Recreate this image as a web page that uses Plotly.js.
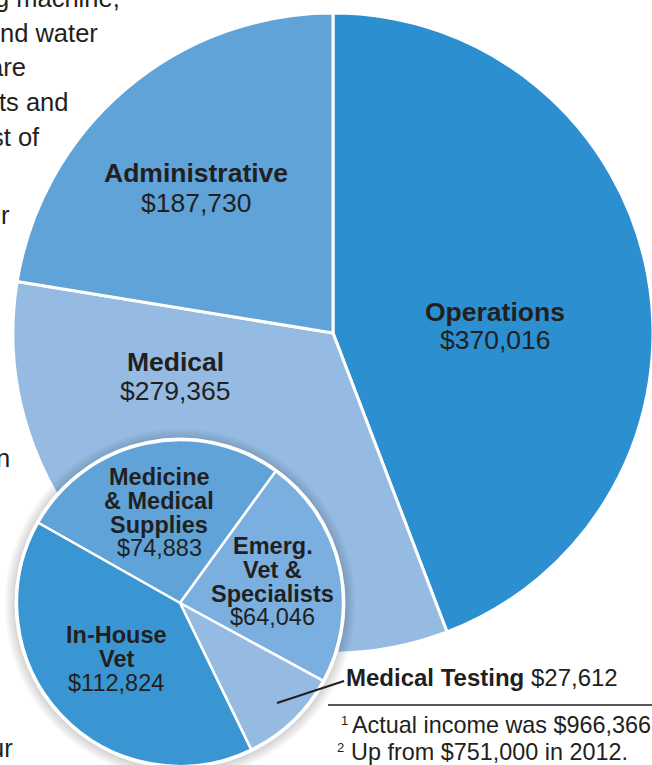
<!DOCTYPE html>
<html>
<head>
<meta charset="utf-8">
<script src="https://cdn.plot.ly/plotly-3.0.1.min.js"></script>
<style>
  html, body { margin: 0; padding: 0; overflow: hidden; background: #ffffff; }
  #chart { width: 660px; height: 790px; }
</style>
</head>
<body>
<div id="chart"></div>
<script>
// ---------- data ----------
const mainCategories = ['Operations', 'Medical', 'Administrative'];
const mainValues = [370016, 279365, 187730];

const medicalCategories = ['Medicine\n& Medical\nSupplies', 'Emerg.\nVet &\nSpecialists', 'Medical Testing', 'In-House\nVet'];
const medicalValues = [74883, 64046, 27612, 112824];

const footnoteMarks = ['1', '2'];
const footnotes = ['Actual income was $966,366', 'Up from $751,000 in 2012.'];

const articleFragments = ['g machine,', 'nd water', 'are', 'ts and', 'st of', 'r', 'n', 'ur'];

// ---------- layout helpers (pixels -> paper) ----------
const W = 660, H = 790;
const X = px => px / W;
const Y = py => 1 - py / H;
const INK = '#231f20';
const FONT = 'Liberation Sans, Arial, Helvetica, sans-serif';
const fmt = v => '$' + v.toLocaleString('en-US');

function disk(cx, cy, r) {
  return { x: [X(cx - r), X(cx + r)], y: [Y(cy + r), Y(cy - r)] };
}

const mainColors = ['#2b8fd0', '#95bbe3', '#5fa3d8'];
const medColors = ['#5fa3d8', '#7aafe0', '#95bbe3', '#3a96d3'];

const BIG = { cx: 333, cy: 333, r: 320 };
const SMALL = { cx: 180, cy: 603, r: 163 };

const traces = [];
traces.push({
  type: 'pie',
  labels: mainCategories,
  values: mainValues,
  sort: false,
  direction: 'clockwise',
  rotation: 0,
  textinfo: 'none',
  hoverinfo: 'none',
  showlegend: false,
  marker: { colors: mainColors, line: { color: '#ffffff', width: 3 } },
  domain: disk(BIG.cx, BIG.cy, BIG.r)
});
// soft shadow rings + white rim behind the inset pie
const shadowSteps = [12, 10, 8, 6, 4];
shadowSteps.forEach(d => {
  traces.push({
    type: 'pie', labels: ['shadow'], values: [1], sort: false,
    textinfo: 'none', hoverinfo: 'none', showlegend: false,
    marker: { colors: ['rgba(0,0,0,0.03)'], line: { width: 0 } },
    domain: disk(SMALL.cx, SMALL.cy + 1, SMALL.r + d)
  });
});
traces.push({
  type: 'pie', labels: ['rim'], values: [1], sort: false,
  textinfo: 'none', hoverinfo: 'none', showlegend: false,
  marker: { colors: ['#ffffff'], line: { width: 0 } },
  domain: disk(SMALL.cx, SMALL.cy, SMALL.r + 2.5)
});
traces.push({
  type: 'pie',
  labels: medicalCategories.map(s => s.replace(/\n/g, ' ')),
  values: medicalValues,
  sort: false,
  direction: 'clockwise',
  rotation: -60.5,
  textinfo: 'none',
  hoverinfo: 'none',
  showlegend: false,
  marker: { colors: medColors, line: { color: '#ffffff', width: 2.5 } },
  domain: disk(SMALL.cx, SMALL.cy, SMALL.r)
});

// ---------- annotations ----------
const annotations = [];
function addLine(text, x, y, size, bold, anchor) {
  annotations.push({
    xref: 'paper', yref: 'paper', x: X(x), y: Y(y),
    xanchor: anchor || 'center', yanchor: 'middle',
    text: bold ? '<b>' + text + '</b>' : text,
    showarrow: false,
    font: { family: FONT, size: size, color: INK }
  });
}

// main pie labels: [x center, first line y center, line step]
const mainLabelPos = [[495, 312, 27.5], [175, 362, 28.5], [196, 172.5, 30]];
mainCategories.forEach((c, i) => {
  const [x, y, step] = mainLabelPos[i];
  addLine(c, x, y, 26.5, true);
  addLine(fmt(mainValues[i]), x, y + step, 26.5, false);
});

// inset pie labels
const medLabelPos = [[159, 477], [272.5, 546], null, [116, 635]];
const medStep = 23.8;
medicalCategories.forEach((c, i) => {
  const pos = medLabelPos[i];
  if (!pos) return;
  const lines = c.split('\n');
  lines.forEach((ln, k) => addLine(ln, pos[0], pos[1] + k * medStep, 23.5, true));
  addLine(fmt(medicalValues[i]), pos[0], pos[1] + lines.length * medStep, 23.5, false);
});
// callout label for Medical Testing
annotations.push({
  xref: 'paper', yref: 'paper', x: X(344), y: Y(677),
  xanchor: 'left', yanchor: 'middle', showarrow: false,
  text: '<b>' + medicalCategories[2] + '</b> ' + fmt(medicalValues[2]),
  font: { family: FONT, size: 24, color: INK }
});

// footnotes
const footPos = [[350, 725, 350, 720], [349, 752, 346, 747]];
footnotes.forEach((t, i) => {
  const [x, y, sx, sy] = footPos[i];
  addLine(t, x, y, 23.4, false, 'left');
  addLine(footnoteMarks[i], sx, sy, 13, false, 'right');
});

// article text fragments on the left (cut-off column)
const fragPos = [[122, -2], [100, 33], [28, 67], [70, 102], [42, 137], [12, 215], [12, 458], [15, 748]];
articleFragments.forEach((t, i) => {
  addLine(t, fragPos[i][0], fragPos[i][1], 25.5, false, 'right');
});

// ---------- shapes ----------
const shapes = [
  { type: 'line', xref: 'paper', yref: 'paper', x0: X(277), y0: Y(703), x1: X(344), y1: Y(681),
    line: { color: INK, width: 2.2 } },
  { type: 'line', xref: 'paper', yref: 'paper', x0: X(328), y0: Y(705), x1: X(660), y1: Y(705),
    line: { color: INK, width: 1.4 } }
];

const layout = {
  width: W, height: H,
  margin: { l: 0, r: 0, t: 0, b: 0, pad: 0 },
  paper_bgcolor: '#ffffff',
  plot_bgcolor: '#ffffff',
  showlegend: false,
  annotations: annotations,
  shapes: shapes,
  font: { family: FONT, color: INK }
};

Plotly.newPlot('chart', traces, layout, { displayModeBar: false, staticPlot: true });
</script>
</body>
</html>
